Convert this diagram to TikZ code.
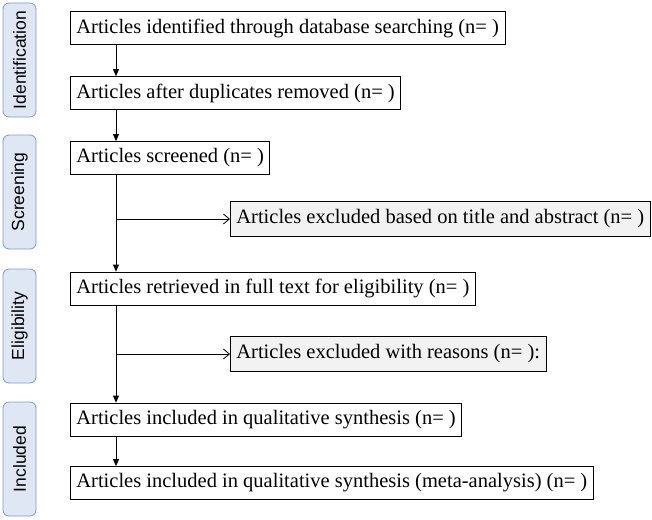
\documentclass[tikz,border=0pt]{standalone}
\usepackage{fontspec}
\setmainfont{Liberation Serif}
\newfontfamily\stagefont{Liberation Sans}
\usetikzlibrary{arrows.meta}
\definecolor{stagefill}{RGB}{222,231,243}
\definecolor{stageline}{RGB}{125,155,200}

\begin{document}
\begin{tikzpicture}[x=1pt,y=-1pt,
   every node/.style={font=\fontsize{20.5}{24}\selectfont},
   box/.style={draw,thick,anchor=west,minimum height=33pt,inner xsep=6pt,inner ysep=2pt},
   exbox/.style={box,fill=gray!10,minimum height=35pt},
   stage/.style={draw=stageline,fill=stagefill,thick,rounded corners=6pt,
      rotate=90,minimum height=33pt,minimum width=114pt,
      font=\stagefont\fontsize{17.5}{20}\selectfont},
   down/.style={thick,-{Triangle[length=7pt,width=6pt]}},
   side/.style={thick,-{Straight Barb[length=6pt,width=10pt]}}]
\useasboundingbox (0,0) rectangle (652,519);

% stages
\node[stage] (sident) at (19.5,60) {Identification};
\node[stage] (sscreen) at (19.5,192) {Screening};
\node[stage] (selig) at (19.5,326) {Eligibility};
\node[stage] (sincl) at (19.5,459) {Included};

% boxes
\node[box] (ident) at (70,28) {Articles identified through database searching (n= )};
\node[box] (dups) at (70,93) {Articles after duplicates removed (n= )};
\node[box] (screen) at (70,158) {Articles screened (n= )};
\node[exbox] (exabs) at (230,219) {Articles excluded based on title and abstract (n= )};
\node[box] (full) at (70,288.5) {Articles retrieved in full text for eligibility (n= )};
\node[exbox] (exreas) at (230,354) {Articles excluded with reasons (n= ):};
\node[box] (qual) at (70,419.5) {Articles included in qualitative synthesis (n= )};
\node[box] (meta) at (70,483) {Articles included in qualitative synthesis (meta-analysis) (n= )};

% arrows
\coordinate (trunk) at (116,0);
\draw[down] (ident.south -| trunk) -- (dups.north -| trunk);
\draw[down] (dups.south -| trunk) -- (screen.north -| trunk);
\draw[down] (screen.south -| trunk) -- (full.north -| trunk);
\draw[side] (exabs.west -| trunk) -- (exabs.west);
\draw[down] (full.south -| trunk) -- (qual.north -| trunk);
\draw[side] (exreas.west -| trunk) -- (exreas.west);
\draw[down] (qual.south -| trunk) -- (meta.north -| trunk);
\end{tikzpicture}
\end{document}
